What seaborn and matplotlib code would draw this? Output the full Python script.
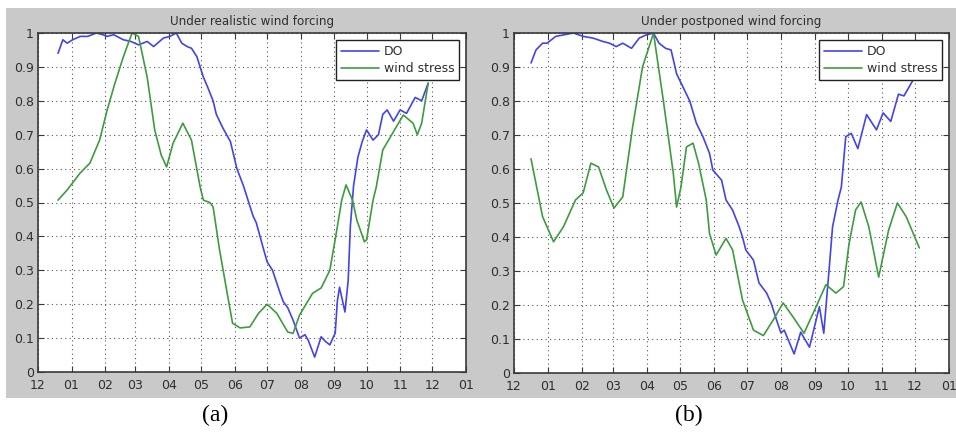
import matplotlib
matplotlib.use("Agg")
import matplotlib.pyplot as plt
from matplotlib.patches import Rectangle
import seaborn as sns
import pandas as pd

# ---------------- data (day index counted from 1 Dec) ----------------
month_ticks = [0, 31, 62, 90, 121, 151, 182, 212, 243, 274, 304, 335, 365, 396]
month_labels = ["12", "01", "02", "03", "04", "05", "06", "07", "08", "09", "10", "11", "12", "01"]
y_ticks = [0, 0.1, 0.2, 0.3, 0.4, 0.5, 0.6, 0.7, 0.8, 0.9, 1.0]
y_labels = ["0", "0.1", "0.2", "0.3", "0.4", "0.5", "0.6", "0.7", "0.8", "0.9", "1"]

titles = ["Under realistic wind forcing", "Under postponed wind forcing"]
captions = ["(a)", "(b)"]
series_names = ["DO", "wind stress"]

a_do_day = [18.5, 23, 27, 32, 39, 46, 54, 60, 64, 70, 79, 86, 93, 101, 107, 116, 122, 128, 133, 138,
            142, 147, 153, 157, 162, 165, 171, 178, 184, 190, 195, 199, 202, 208, 212, 217, 224, 227,
            231, 236, 242, 247, 250, 256, 262, 266, 270, 275, 277, 279, 284, 287, 289, 292, 296, 300,
            304, 310, 315, 319, 323, 329, 335, 341, 349, 355, 361]
a_do_val = [0.94, 0.98, 0.97, 0.98, 0.99, 0.99, 1.0, 0.995, 0.99, 0.995, 0.98, 0.975, 0.965, 0.975,
            0.96, 0.985, 0.99, 1.0, 0.97, 0.96, 0.955, 0.93, 0.87, 0.84, 0.80, 0.76, 0.72, 0.68, 0.60,
            0.55, 0.50, 0.46, 0.44, 0.37, 0.325, 0.30, 0.233, 0.207, 0.19, 0.153, 0.10, 0.11, 0.094,
            0.044, 0.104, 0.09, 0.08, 0.115, 0.21, 0.25, 0.177, 0.27, 0.43, 0.55, 0.634, 0.68, 0.714,
            0.684, 0.70, 0.76, 0.773, 0.74, 0.773, 0.763, 0.81, 0.80, 0.852]

a_ws_day = [18.5, 27, 39, 48, 57, 64, 71, 79, 87, 93, 101, 108, 114, 119, 125, 134, 142, 150, 153,
            159, 162, 168, 175, 180, 187, 196, 204, 212, 221, 231, 236, 242, 254, 262, 270, 276, 281,
            285, 291, 295, 302, 304, 310, 313, 319, 328, 338, 347, 351, 355, 361]
a_ws_val = [0.507, 0.537, 0.587, 0.616, 0.684, 0.773, 0.85, 0.93, 1.0, 0.99, 0.87, 0.714, 0.64,
            0.605, 0.675, 0.734, 0.684, 0.546, 0.507, 0.50, 0.487, 0.36, 0.233, 0.144, 0.13, 0.133,
            0.173, 0.20, 0.173, 0.118, 0.114, 0.168, 0.232, 0.248, 0.30, 0.41, 0.507, 0.552, 0.507,
            0.448, 0.384, 0.39, 0.507, 0.546, 0.655, 0.704, 0.758, 0.734, 0.70, 0.734, 0.852]

b_do_day = [15.5, 20, 26, 30, 38, 46, 54, 63, 72, 81, 87, 93, 99, 107, 114, 120, 127, 132, 138, 143,
            148, 154, 160, 166, 172, 178, 181, 189, 193, 199, 205, 208, 211, 218, 223, 230, 234, 239,
            243, 246, 255, 261, 269, 278, 282, 284, 287, 290, 295, 298, 302, 307, 313, 321, 330, 336,
            343, 350, 355, 363]
b_do_val = [0.912, 0.95, 0.97, 0.97, 0.99, 0.995, 1.0, 0.99, 0.985, 0.975, 0.97, 0.96, 0.97, 0.955,
            0.985, 0.994, 1.0, 0.97, 0.955, 0.95, 0.88, 0.84, 0.80, 0.735, 0.695, 0.646, 0.597, 0.567,
            0.509, 0.479, 0.43, 0.40, 0.362, 0.332, 0.265, 0.235, 0.206, 0.156, 0.118, 0.126, 0.056,
            0.12, 0.076, 0.195, 0.117, 0.195, 0.31, 0.43, 0.509, 0.547, 0.695, 0.705, 0.66, 0.76,
            0.715, 0.765, 0.74, 0.82, 0.815, 0.86]

b_ws_day = [15.5, 26, 36, 45, 56, 63, 70, 77, 84, 91, 99, 108, 117, 127, 136, 145, 148, 152, 157,
            163, 168, 175, 178, 184, 193, 199, 208, 218, 227, 236, 245, 254, 264, 275, 284, 293, 300,
            305, 311, 316, 323, 332, 341, 349, 357, 369]
b_ws_val = [0.63, 0.46, 0.386, 0.43, 0.509, 0.53, 0.617, 0.606, 0.54, 0.485, 0.518, 0.724, 0.9, 1.0,
            0.80, 0.588, 0.488, 0.547, 0.665, 0.676, 0.617, 0.509, 0.41, 0.347, 0.396, 0.362, 0.215,
            0.126, 0.11, 0.156, 0.206, 0.165, 0.117, 0.195, 0.26, 0.235, 0.254, 0.38, 0.48, 0.503,
            0.43, 0.282, 0.42, 0.50, 0.46, 0.368]

# ---------------- style ----------------
sns.set_style("ticks")
plt.rcParams["font.family"] = ["DejaVu Sans"]

blue = "#4444e6"
green = "#3f9b3f"
frame = "#3a3a3a"
textc = "#2e2e2e"

W, H = 956, 434
fig = plt.figure(figsize=(W / 100, H / 100), dpi=100, facecolor="white")
fig.patches.append(Rectangle((6 / W, 1 - 398 / H), (W - 6) / W, 390 / H,
                             transform=fig.transFigure, facecolor="#c9c9c9",
                             edgecolor="none", zorder=-10))

boxes = [(38, 33, 466, 372), (514, 33, 949, 373)]
panels = [(a_do_day, a_do_val, a_ws_day, a_ws_val), (b_do_day, b_do_val, b_ws_day, b_ws_val)]
caption_x = [215, 689]

for i, ((x0, y0, x1, y1), (dd, dv, wd, wv)) in enumerate(zip(boxes, panels)):
    ax = fig.add_axes([x0 / W, 1 - y1 / H, (x1 - x0) / W, (y1 - y0) / H])
    ax.set_zorder(5)
    ax.set_facecolor("white")
    df_do = pd.DataFrame({"day": dd, "value": dv})
    df_ws = pd.DataFrame({"day": wd, "value": wv})
    sns.lineplot(data=df_do, x="day", y="value", ax=ax, color=blue, lw=1.2,
                 sort=False, estimator=None, label=series_names[0])
    sns.lineplot(data=df_ws, x="day", y="value", ax=ax, color=green, lw=1.2,
                 sort=False, estimator=None, label=series_names[1])
    ax.set_xlim(0, 396)
    ax.set_ylim(0, 1)
    ax.set_xticks(month_ticks)
    ax.set_xticklabels(month_labels)
    ax.set_yticks(y_ticks)
    ax.set_yticklabels(y_labels)
    ax.set_xlabel("")
    ax.set_ylabel("")
    ax.grid(True, linestyle=(0, (1, 3)), color="#555555", lw=0.8)
    ax.tick_params(direction="in", length=4, width=0.8, colors=frame, labelcolor=textc,
                   labelsize=9, top=True, right=True)
    ax.tick_params(axis="x", pad=5)
    ax.tick_params(axis="y", pad=3)
    for s in ax.spines.values():
        s.set_color(frame)
        s.set_linewidth(1.2)
    ax.set_title(titles[i], fontsize=8.6, color=textc, pad=6)
    leg = ax.legend(loc="upper right", fontsize=9, frameon=True, fancybox=False,
                    handlelength=3.0, handletextpad=0.4, borderaxespad=0.55,
                    borderpad=0.4, labelspacing=0.35)
    leg.get_frame().set_edgecolor("#222222")
    leg.get_frame().set_linewidth(1.0)
    leg.get_frame().set_alpha(1)
    for t in leg.get_texts():
        t.set_color(textc)
    fig.text(caption_x[i] / W, 1 - 415 / H, captions[i], ha="center", va="center",
             fontsize=17, family=["Liberation Serif", "DejaVu Serif"], color="black")

fig.savefig("out.png", dpi=100, facecolor="white")
